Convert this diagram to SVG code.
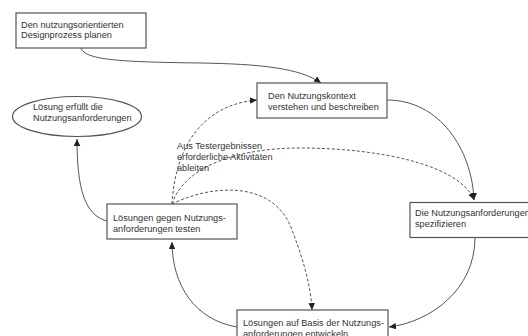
<svg xmlns="http://www.w3.org/2000/svg" width="528" height="336" viewBox="0 0 528 336">
  <style>
    .box { fill: #ffffff; stroke: #555555; stroke-width: 1.2; }
    .lbl { font-family: "Liberation Sans", Arial, sans-serif; font-size: 9.2px; fill: #333333; }
    .flow { fill: none; stroke: #555555; stroke-width: 1; marker-end: url(#head); }
    .dash { stroke-dasharray: 3 2; }
  </style>
  <defs>
    <marker id="head" markerUnits="userSpaceOnUse" markerWidth="8" markerHeight="7" refX="7" refY="3.25" orient="auto">
      <path d="M0,0 L7,3.25 L0,6.5 z" fill="#222222"/>
    </marker>
  </defs>

  <rect width="528" height="336" fill="#ffffff"/>

  <g id="connectors">
    <path class="flow" d="M81,48 C85,60 120,62 200,63 C260,64 300,68 321,83"/>
    <path class="flow" d="M387,100 C440,100 472,150 474,200"/>
    <path class="flow" d="M475,237.5 C475,290 430,322 389,327"/>
    <path class="flow" d="M237,327 C195,320 172,285 172,242"/>
    <path class="flow" d="M107,221 C85,215 77,190 77,139"/>
    <path class="flow dash" d="M172,204 C175,150 200,105 257,100"/>
    <path class="flow dash" d="M172,204 C185,165 240,148 300,148 C380,148 460,165 474,200"/>
    <path class="flow dash" d="M172,204 C210,185 270,180 290,225 C302,255 311,285 312,310"/>
  </g>

  <g id="plan">
    <rect class="box" x="16" y="13" width="130" height="35"/>
    <text class="lbl" x="21" y="27.5">Den nutzungsorientierten</text>
    <text class="lbl" x="21" y="38">Designprozess planen</text>
  </g>

  <g id="context">
    <rect class="box" x="257" y="83" width="130" height="35"/>
    <text class="lbl" x="268" y="99">Den Nutzungskontext</text>
    <text class="lbl" x="268" y="110">verstehen und beschreiben</text>
  </g>

  <g id="done">
    <ellipse class="box" cx="77" cy="116.5" rx="64.5" ry="20"/>
    <text class="lbl" x="33" y="109.5">Lösung erfüllt die</text>
    <text class="lbl" x="33" y="121">Nutzungsanforderungen</text>
  </g>

  <g id="test">
    <rect class="box" x="107" y="204" width="130" height="35"/>
    <text class="lbl" x="113" y="221">Lösungen gegen Nutzungs-</text>
    <text class="lbl" x="113" y="232">anforderungen testen</text>
  </g>

  <g id="specify">
    <rect class="box" x="410" y="202.5" width="130" height="35"/>
    <text class="lbl" x="415" y="215.5">Die Nutzungsanforderungen</text>
    <text class="lbl" x="415" y="226.5">spezifizieren</text>
  </g>

  <g id="develop">
    <rect class="box" x="237" y="310" width="151" height="35"/>
    <text class="lbl" x="243" y="326">Lösungen auf Basis der Nutzungs-</text>
    <text class="lbl" x="243" y="337">anforderungen entwickeln</text>
  </g>

  <g id="derive-note">
    <text class="lbl" x="177" y="148.5">Aus Testergebnissen</text>
    <text class="lbl" x="177" y="159.5">erforderliche Aktivitäten</text>
    <text class="lbl" x="177" y="170.5">ableiten</text>
  </g>
</svg>
